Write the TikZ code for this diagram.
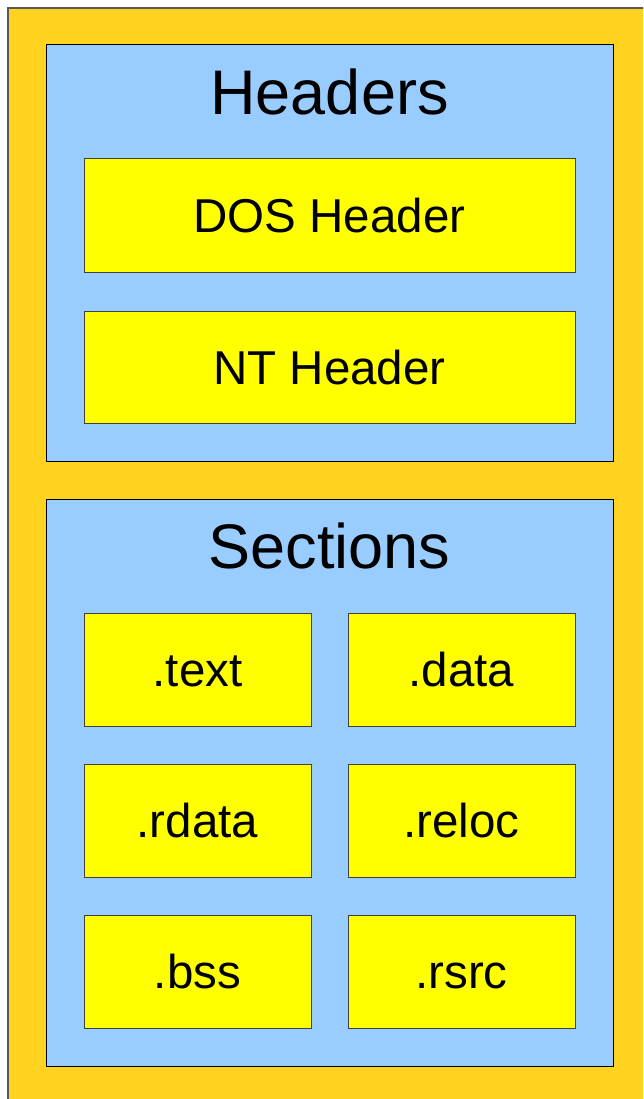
\documentclass[tikz,border=0pt]{standalone}
\usepackage{fontspec}
\setmainfont{Liberation Sans}
\definecolor{outerfill}{HTML}{FFD320}
\definecolor{panelfill}{HTML}{99CCFF}
\definecolor{boxfill}{HTML}{FFFF00}
\tikzset{
  outerbox/.style={draw=black!65, line width=1.2pt, fill=outerfill},
  panel/.style={draw=black, line width=1pt, fill=panelfill, rectangle, inner sep=0pt},
  itembox/.style={draw=black!75, line width=1pt, fill=boxfill, rectangle, inner sep=0pt,
     text height=34pt, text depth=0pt, font=\fontsize{47.5}{52}\selectfont},
  title/.style={anchor=base, inner sep=0pt, font=\fontsize{63}{70}\selectfont}
}
\begin{document}
\begin{tikzpicture}[x=1pt,y=-1pt]
\useasboundingbox (0,0) rectangle (643,1099);
\clip (0,0) rectangle (643,1099);
\draw[outerbox] (8,8) rectangle (670,1130);
% panels
\node[panel, minimum width=567pt, minimum height=416pt] (headers) at (329.5,253) {};
\node[panel, minimum width=567pt, minimum height=567pt] (sections) at (329.5,782.5) {};
\node[title] (headerstitle) at (329.5,115) {Headers};
\node[title] (sectionstitle) at (329.5,568) {Sections};
% header boxes
\node[itembox, minimum width=491pt, minimum height=113pt] (dos) at (329.5,215.5) {DOS Header};
\node[itembox, minimum width=491pt, minimum height=112pt] (nt) at (329.5,367) {NT Header};
% section boxes
\node[itembox, minimum width=227pt, minimum height=113pt] (text) at (197.5,669.5) {.text};
\node[itembox, minimum width=227pt, minimum height=113pt] (data) at (461.5,669.5) {.data};
\node[itembox, minimum width=227pt, minimum height=113pt] (rdata) at (197.5,820.5) {.rdata};
\node[itembox, minimum width=227pt, minimum height=113pt] (reloc) at (461.5,820.5) {.reloc};
\node[itembox, minimum width=227pt, minimum height=113pt] (bss) at (197.5,971.5) {.bss};
\node[itembox, minimum width=227pt, minimum height=113pt] (rsrc) at (461.5,971.5) {.rsrc};
\end{tikzpicture}
\end{document}
